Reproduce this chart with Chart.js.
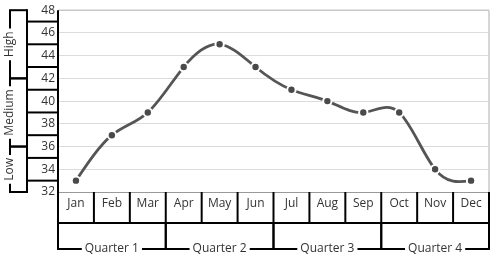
<!DOCTYPE html>
<html>
<head>
<meta charset="utf-8">
<script src="https://cdn.jsdelivr.net/npm/chart.js@4/dist/chart.umd.min.js"></script>
<style>
  body { margin: 0; background: #fff; }
  canvas { display: block; }
</style>
</head>
<body>
<canvas id="chart" width="500" height="266"></canvas>
<script>
// data
var months = ["Jan", "Feb", "Mar", "Apr", "May", "Jun", "Jul", "Aug", "Sep", "Oct", "Nov", "Dec"];
var sales = [33, 37, 39, 43, 45, 43, 41, 40, 39, 39, 34, 33];
var yMin = 32, yMax = 48, yStep = 2;
var bandLabels = ["Low", "Medium", "High"];
var bandFrom = [32, 36, 42];
var bandTo = [36, 42, 48];
var quarterLabels = ["Quarter 1", "Quarter 2", "Quarter 3", "Quarter 4"];
var quarterStart = [0, 3, 6, 9];
var quarterEnd = [3, 6, 9, 12];

var FONT = "'Open Sans', 'Noto Sans', sans-serif";
var TEXT = "#333";

// natural spline line, drawn under the points
var splinePlugin = {
  id: "spline",
  beforeDatasetsDraw: function (chart) {
    var pts = chart.getDatasetMeta(0).data;
    var n = pts.length - 1;
    var xs = [], ys = [];
    for (var i = 0; i <= n; i++) { xs.push(pts[i].x); ys.push(pts[i].y); }
    var h = xs[1] - xs[0];
    // tridiagonal solve for second derivatives, M0 = Mn = 0
    var M = new Array(n + 1).fill(0);
    var a = [], b = [], c = [], d = [];
    for (var i = 1; i < n; i++) {
      a.push(h); b.push(4 * h); c.push(h);
      d.push(6 * (ys[i + 1] - 2 * ys[i] + ys[i - 1]) / h);
    }
    var m = d.length;
    for (var i = 1; i < m; i++) {
      var w = a[i] / b[i - 1];
      b[i] -= w * c[i - 1];
      d[i] -= w * d[i - 1];
    }
    var sol = new Array(m);
    sol[m - 1] = d[m - 1] / b[m - 1];
    for (var i = m - 2; i >= 0; i--) sol[i] = (d[i] - c[i] * sol[i + 1]) / b[i];
    for (var i = 1; i < n; i++) M[i] = sol[i - 1];

    var ctx = chart.ctx;
    ctx.save();
    ctx.strokeStyle = "#555";
    ctx.lineWidth = 2.8;
    ctx.lineJoin = "round";
    ctx.beginPath();
    ctx.moveTo(xs[0], ys[0]);
    for (var i = 0; i < n; i++) {
      var s = (ys[i + 1] - ys[i]) / h;
      var m0 = s - h * (2 * M[i] + M[i + 1]) / 6;
      var m1 = s + h * (M[i] + 2 * M[i + 1]) / 6;
      ctx.bezierCurveTo(xs[i] + h / 3, ys[i] + m0 * h / 3,
                        xs[i + 1] - h / 3, ys[i + 1] - m1 * h / 3,
                        xs[i + 1], ys[i + 1]);
    }
    ctx.stroke();
    ctx.restore();
  }
};

function line(ctx, x1, y1, x2, y2) {
  ctx.beginPath();
  ctx.moveTo(x1, y1);
  ctx.lineTo(x2, y2);
  ctx.stroke();
}

// multi level axis decorations
var axisPlugin = {
  id: "axisLevels",
  afterDraw: function (chart) {
    var ctx = chart.ctx;
    var area = chart.chartArea;
    var ys = chart.scales.y;
    var L = area.left, R = area.right, T = area.top, B = area.bottom;
    var colW = (R - L) / months.length;
    var rowY = 223, qY = 249, innerX = 27, outerX = 10;

    ctx.save();
    // plot border top/right
    ctx.strokeStyle = "#c8c8c8";
    ctx.lineWidth = 1.5;
    line(ctx, L, T, R, T);
    line(ctx, R, T, R, B);
    ctx.strokeStyle = "#999";
    ctx.lineWidth = 1;
    line(ctx, L, B + 0.5, R, B + 0.5);

    ctx.strokeStyle = "#000";
    ctx.lineWidth = 2;
    // left axis
    line(ctx, L, T, L, qY + 1);
    line(ctx, innerX, ys.getPixelForValue(yMax) - 1, innerX, ys.getPixelForValue(yMin) + 1);
    for (var v = yMin + yStep / 2; v < yMax; v += yStep) {
      var py = ys.getPixelForValue(v);
      line(ctx, innerX, py, L, py);
    }
    // band brackets
    ctx.font = "12px " + FONT;
    ctx.fillStyle = TEXT;
    ctx.textAlign = "center";
    ctx.textBaseline = "middle";
    for (var i = 0; i < bandLabels.length; i++) {
      var y0 = ys.getPixelForValue(bandFrom[i]);
      var y1 = ys.getPixelForValue(bandTo[i]);
      var mid = (y0 + y1) / 2;
      var tw = ctx.measureText(bandLabels[i]).width;
      line(ctx, outerX - 1, y0, innerX, y0);
      line(ctx, outerX - 1, y1, innerX, y1);
      line(ctx, outerX, y1, outerX, mid - tw / 2 - 3);
      line(ctx, outerX, mid + tw / 2 + 3, outerX, y0);
      ctx.save();
      ctx.translate(outerX, mid);
      ctx.rotate(-Math.PI / 2);
      ctx.fillText(bandLabels[i], 0, 0);
      ctx.restore();
    }

    // month cells
    line(ctx, L, rowY, R, rowY);
    for (var i = 0; i <= months.length; i++) {
      var px = L + i * colW;
      line(ctx, px, B, px, rowY);
    }
    // quarter brackets
    for (var i = 0; i < quarterLabels.length; i++) {
      var x0 = L + quarterStart[i] * colW;
      var x1 = L + quarterEnd[i] * colW;
      var mx = (x0 + x1) / 2;
      var tw = ctx.measureText(quarterLabels[i]).width;
      line(ctx, x0, rowY, x0, qY);
      line(ctx, x1, rowY, x1, qY);
      line(ctx, x0 - 1, qY, mx - tw / 2 - 3, qY);
      line(ctx, mx + tw / 2 + 3, qY, x1 + 1, qY);
      ctx.fillText(quarterLabels[i], mx, qY);
    }
    ctx.restore();
  }
};

new Chart(document.getElementById("chart"), {
  type: "line",
  data: {
    labels: months,
    datasets: [{
      data: sales,
      showLine: false,
      pointRadius: 4.2,
      pointBackgroundColor: "#4a4a4a",
      pointBorderColor: "#fff",
      pointBorderWidth: 2
    }]
  },
  options: {
    responsive: false,
    animation: false,
    layout: { padding: { top: 10, right: 11, left: 0, bottom: 0 } },
    plugins: { legend: { display: false }, tooltip: { enabled: false } },
    scales: {
      x: {
        type: "category",
        offset: true,
        grid: { display: false, drawTicks: false },
        border: { display: false },
        ticks: { color: TEXT, font: { size: 12, family: FONT }, padding: 4, maxRotation: 0, autoSkip: false },
        afterFit: function (s) { s.height = 74; }
      },
      y: {
        min: yMin,
        max: yMax,
        grid: { color: "#dcdcdc", drawTicks: false },
        border: { display: false },
        ticks: { stepSize: yStep, color: TEXT, font: { size: 12, family: FONT }, padding: 3 },
        afterFit: function (s) { s.width = 58; }
      }
    }
  },
  plugins: [splinePlugin, axisPlugin]
});
</script>
</body>
</html>
